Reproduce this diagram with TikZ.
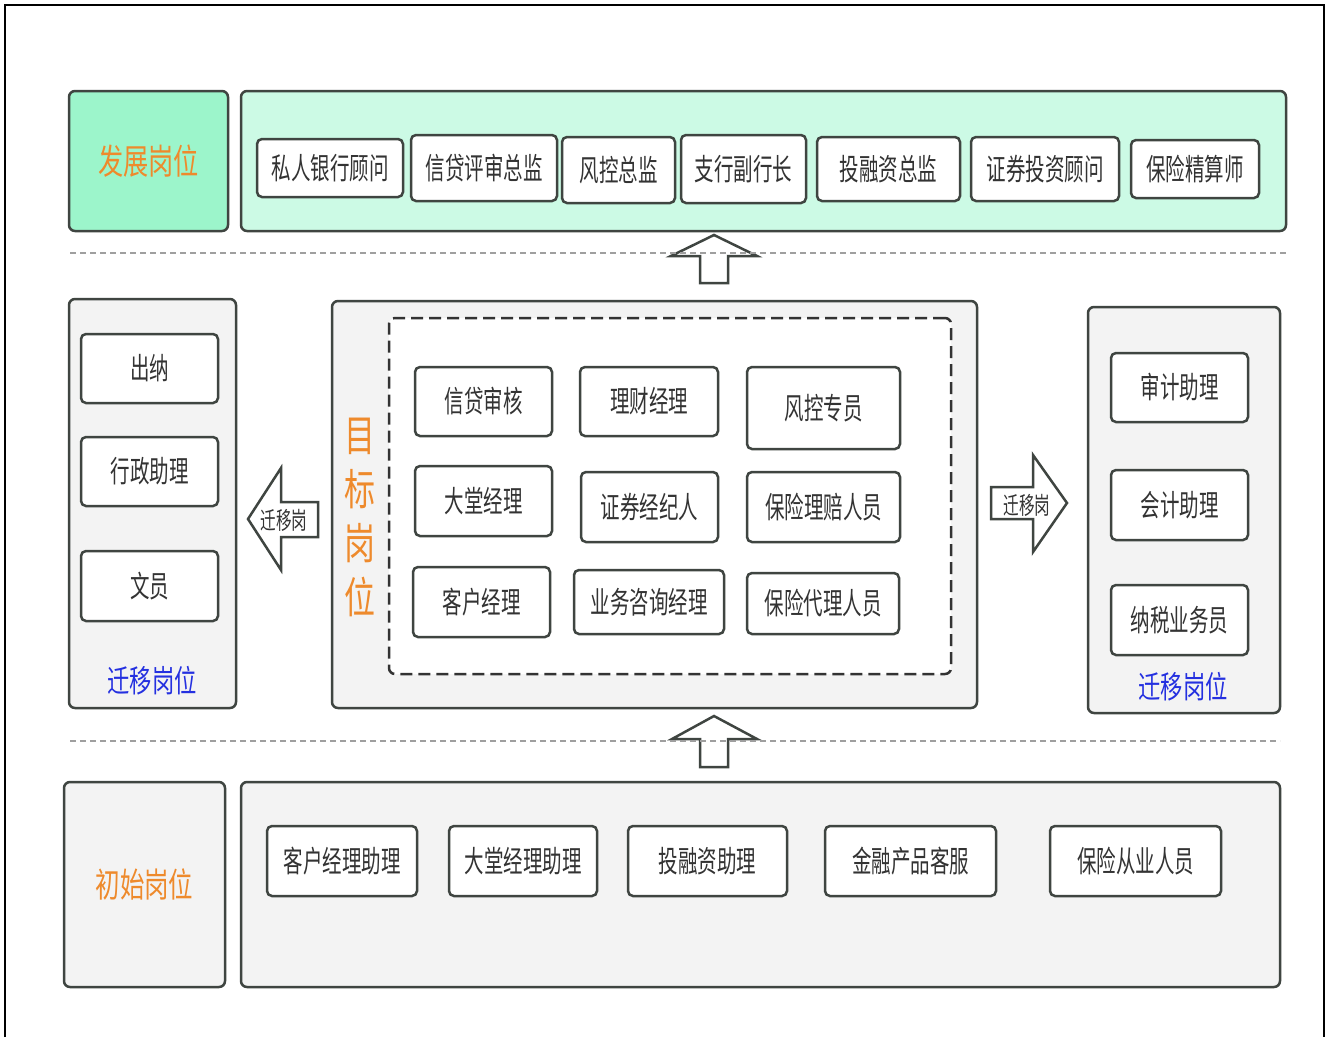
\documentclass[tikz,border=0pt]{standalone}
\usepackage{fontspec}
\setmainfont[FakeStretch=0.72]{Noto Sans CJK SC}
\newfontfamily\boxfont[FakeStretch=0.65]{Noto Sans CJK SC}
\definecolor{boxline}{HTML}{3F4541}
\definecolor{txt}{HTML}{333333}
\definecolor{panelgray}{HTML}{F3F3F3}
\definecolor{mintdark}{HTML}{9CF5CB}
\definecolor{mintlight}{HTML}{CCFAE5}
\definecolor{orangetxt}{HTML}{EE8A2C}
\definecolor{bluetxt}{HTML}{2430E0}
\tikzset{
  jbox/.style={draw=boxline, line width=2.5pt, rounded corners=5pt, fill=white, text=txt,
    font=\boxfont\fontsize{30}{30}\selectfont, inner sep=0pt},
  panel/.style={draw=boxline, line width=2.5pt, rounded corners=6pt, fill=panelgray, inner sep=0pt},
  sepline/.style={draw=gray!75, dash pattern=on 6pt off 4pt, line width=1.2pt},
  blockarrow/.style={draw=boxline, line width=2.5pt, fill=white, line join=miter},
  frame/.style={draw=black, line width=2pt},
}
% name, x1, y1, x2, y2, text, style
\newcommand\bx[7]{\node[#7, minimum width={(#4)-(#2)}, minimum height={(#5)-(#3)}] (#1) at ({((#2)+(#4))/2},{((#3)+(#5))/2}) {#6};}
\begin{document}
\begin{tikzpicture}[x=1pt,y=-1pt]
\useasboundingbox (0,0) rectangle (1326,1037);
\fill[white] (0,0) rectangle (1326,1037);
% outer frame
\draw[frame] (5,1037) -- (5,5) -- (1324,5) -- (1324,1037);

% ---------------- top row ----------------
\bx{dev}{69}{91}{228}{231}{\fontsize{35}{35}\selectfont 发展岗位}{panel, fill=mintdark, text=orangetxt}
\bx{devpanel}{241}{91}{1286}{231}{}{panel, fill=mintlight}
\bx{t1}{257}{139}{403}{197}{私人银行顾问}{jbox}
\bx{t2}{411}{135}{557}{201}{信贷评审总监}{jbox}
\bx{t3}{562}{137}{675}{203}{风控总监}{jbox}
\bx{t4}{681}{135}{806}{203}{支行副行长}{jbox}
\bx{t5}{817}{137}{960}{201}{投融资总监}{jbox}
\bx{t6}{971}{137}{1119}{201}{证券投资顾问}{jbox}
\bx{t7}{1131}{140}{1259}{198}{保险精算师}{jbox}

% up arrow 1
\draw[blockarrow] (714,235) -- (757,256) -- (728,256) -- (728,283) -- (700,283) -- (700,256) -- (671,256) -- cycle;
\coordinate (sepAl) at (70,253);
\coordinate (sepAr) at (1286,253);
\draw[sepline] (sepAl) -- (sepAr);

% ---------------- middle row ----------------
\bx{leftpanel}{69}{299}{236}{708}{}{panel}
\bx{l1}{81}{334}{218}{403}{出纳}{jbox}
\bx{l2}{81}{437}{218}{506}{行政助理}{jbox}
\bx{l3}{81}{551}{218}{621}{文员}{jbox}
\node[text=bluetxt, font=\fontsize{31}{31}\selectfont] (lefttitle) at (152,681) {迁移岗位};

% left block arrow
\draw[blockarrow] (248,519) -- (281,468) -- (281,502) -- (318,502) -- (318,537) -- (281,537) -- (281,570) -- cycle;
\node[text=txt, font=\boxfont\fontsize{24}{24}\selectfont] (leftarrowtxt) at (284,520) {迁移岗};

\bx{target}{332}{301}{977}{708}{}{panel}
\bx{inner}{389}{318}{951}{674}{}{panel, fill=white, dash pattern=on 12pt off 6pt, draw=txt}
\node[text=orangetxt, font=\fontsize{43}{54}\selectfont, align=center, inner sep=0pt] (targettitle) at (360,517) {目\\标\\岗\\位};

\bx{m1}{415}{367}{552}{436}{信贷审核}{jbox}
\bx{m2}{580}{367}{718}{436}{理财经理}{jbox}
\bx{m3}{747}{367}{900}{449}{风控专员}{jbox}
\bx{m4}{415}{466}{552}{536}{大堂经理}{jbox}
\bx{m5}{581}{472}{718}{542}{证券经纪人}{jbox}
\bx{m6}{747}{472}{900}{542}{保险理赔人员}{jbox}
\bx{m7}{413}{567}{550}{637}{客户经理}{jbox}
\bx{m8}{574}{570}{724}{634}{业务咨询经理}{jbox}
\bx{m9}{747}{573}{899}{634}{保险代理人员}{jbox}

% right block arrow
\draw[blockarrow] (991,487) -- (1033,487) -- (1033,455) -- (1067,503) -- (1033,552) -- (1033,519) -- (991,519) -- cycle;
\node[text=txt, font=\boxfont\fontsize{24}{24}\selectfont] (rightarrowtxt) at (1027,505) {迁移岗};

\bx{rightpanel}{1088}{307}{1280}{713}{}{panel}
\bx{r1}{1111}{353}{1248}{422}{审计助理}{jbox}
\bx{r2}{1111}{470}{1248}{540}{会计助理}{jbox}
\bx{r3}{1111}{585}{1248}{655}{纳税业务员}{jbox}
\node[text=bluetxt, font=\fontsize{31}{31}\selectfont] (righttitle) at (1183,687) {迁移岗位};

% up arrow 2
\draw[blockarrow] (714,716) -- (757,739) -- (728,739) -- (728,767) -- (700,767) -- (700,739) -- (672,739) -- cycle;
\coordinate (sepBl) at (70,741);
\coordinate (sepBr) at (1280,741);
\draw[sepline] (sepBl) -- (sepBr);

% ---------------- bottom row ----------------
\bx{init}{64}{782}{225}{987}{\fontsize{34}{34}\selectfont 初始岗位}{panel, text=orangetxt}
\bx{initpanel}{241}{782}{1280}{987}{}{panel}
\bx{b1}{267}{826}{417}{896}{客户经理助理}{jbox}
\bx{b2}{449}{826}{597}{896}{大堂经理助理}{jbox}
\bx{b3}{628}{826}{787}{896}{投融资助理}{jbox}
\bx{b4}{825}{826}{996}{896}{金融产品客服}{jbox}
\bx{b5}{1050}{826}{1221}{896}{保险从业人员}{jbox}
\end{tikzpicture}
\end{document}
